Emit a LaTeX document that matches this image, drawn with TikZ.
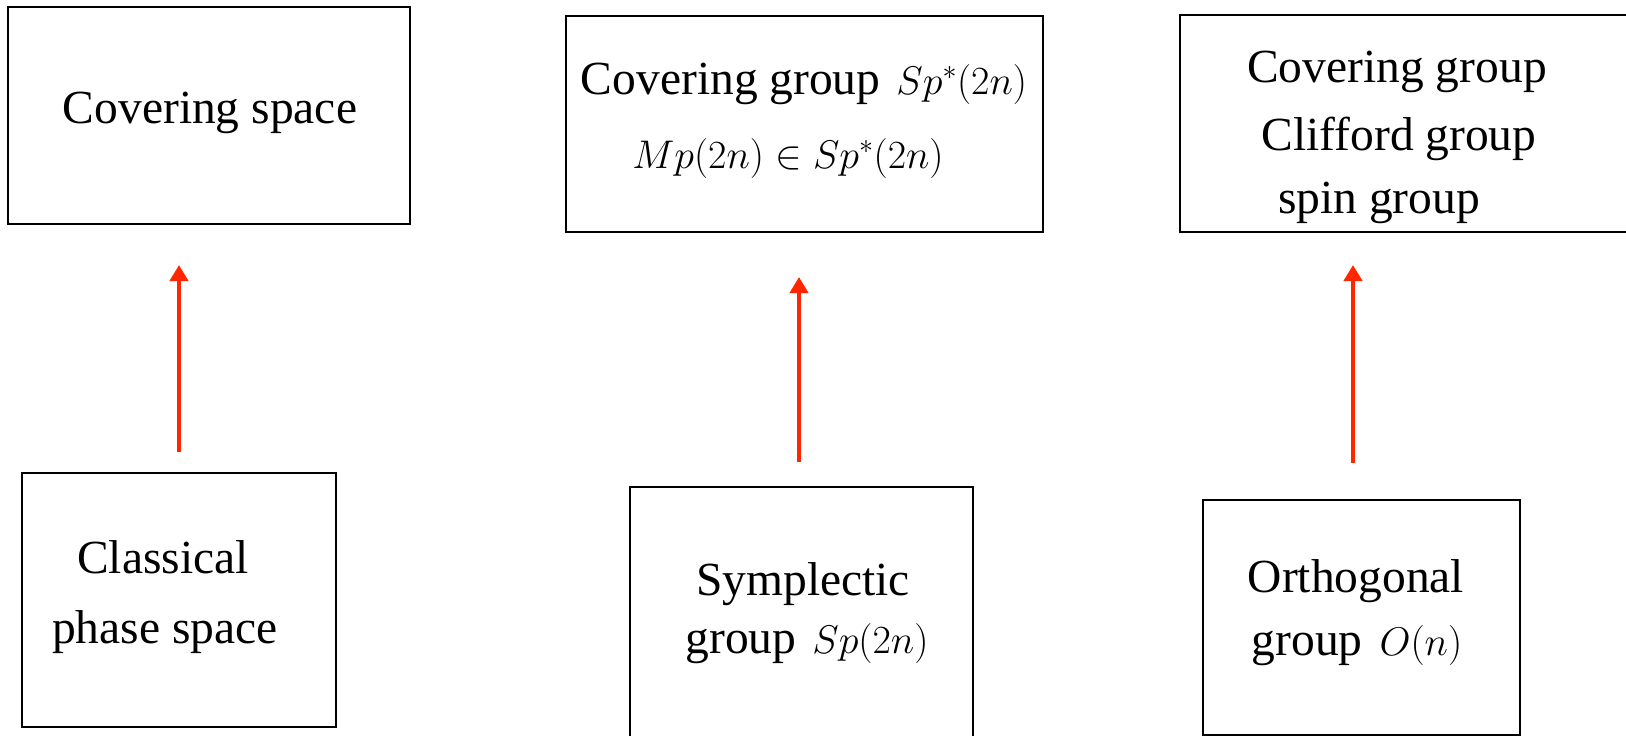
\RequirePackage{fix-cm}
\documentclass[tikz,border=0pt]{standalone}
\usepackage[no-math]{fontspec}
\setmainfont{Liberation Serif}
\usetikzlibrary{arrows.meta}

\definecolor{liftred}{RGB}{255,38,0}

\newcommand{\txt}{\fontsize{47.5}{57}\selectfont}
\newcommand{\mth}{\fontsize{40}{48}\selectfont}

\tikzset{
  box/.style={draw=black, line width=2.6pt, rectangle, inner sep=0pt},
  line/.style={anchor=base, inner sep=0pt, font=\txt},
  lift/.style={draw=liftred, line width=4pt,
    -{Triangle[width=18pt,length=16pt]}}
}

\begin{document}
\begin{tikzpicture}[x=1pt, y=-1pt]
\useasboundingbox (0,0) rectangle (1626,736);

% upper row: covering objects
\node[box, minimum width=402pt, minimum height=217pt] (cspace) at (209,115.5) {};
\node[box, minimum width=477pt, minimum height=216pt] (cgroup) at (804.5,124) {};
\node[box, minimum width=480pt, minimum height=217pt] (cliff) at (1420,123.5) {};

% lower row: the covered objects
\node[box, minimum width=314pt, minimum height=254pt] (phase) at (179,600) {};
\node[box, minimum width=343pt, minimum height=273pt] (symp) at (801.5,623.5) {};
\node[box, minimum width=317pt, minimum height=235pt] (orth) at (1361.5,617.5) {};

% texts of the upper row
\node[line] (t1) at (210,123) {Covering space};
\node[line] (t2a) at (804,94) {Covering group\hspace{16pt}{\mth$Sp^*(2n)$}};
\node[line] (t2b) at (788,168) {\mth$Mp(2n)\in Sp^*(2n)$};
\node[line] (t3a) at (1397,82) {Covering group};
\node[line] (t3b) at (1399,150) {Clifford group};
\node[line] (t3c) at (1379,213) {spin group};

% texts of the lower row
\node[line] (t4a) at (163,573) {Classical};
\node[line] (t4b) at (165,643) {phase space};
\node[line] (t5a) at (803,595) {Symplectic};
\node[line] (t5b) at (807,653) {group\hspace{16pt}{\mth$Sp(2n)$}};
\node[line] (t6a) at (1356,592) {Orthogonal};
\node[line] (t6b) at (1357,655) {group\hspace{17pt}{\mth$O(n)$}};

% lifting arrows
\coordinate (a1s) at (179,452);
\coordinate (a1e) at (179,265);
\coordinate (a2s) at (799,462);
\coordinate (a2e) at (799,277);
\coordinate (a3s) at (1353,463);
\coordinate (a3e) at (1353,265);
\draw[lift] (a1s) -- (a1e);
\draw[lift] (a2s) -- (a2e);
\draw[lift] (a3s) -- (a3e);
\end{tikzpicture}
\end{document}
